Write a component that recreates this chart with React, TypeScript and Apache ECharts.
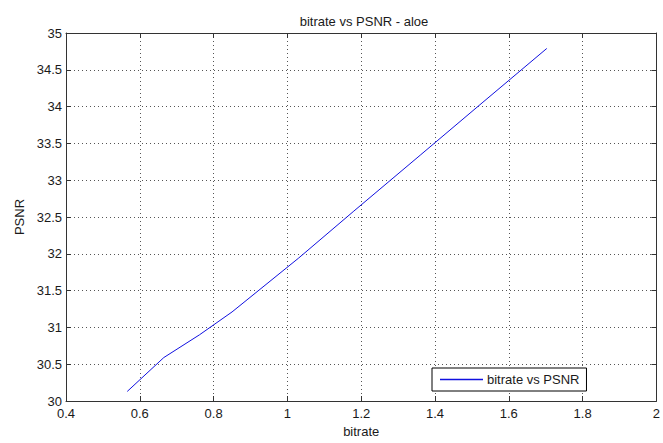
import React, { useEffect, useRef } from "react";
import * as echarts from "echarts";

const bitrate = [0.566, 0.665, 0.762, 0.85, 1.03, 1.18, 1.36, 1.53, 1.703];
const psnr = [30.13, 30.59, 30.9, 31.21, 31.94, 32.58, 33.34, 34.06, 34.79];
const seriesName = "bitrate vs PSNR";
const titleText = "bitrate vs PSNR - aloe";
const xName = "bitrate";
const yName = "PSNR";

const FONT = "Liberation Sans, Arial, sans-serif";
const TXT = "#1a1a1a";
const AX = "#333";
const GRID = "#555";
const LINE = "#1010e0";

export default function App() {
  const ref = useRef<HTMLDivElement>(null);
  useEffect(() => {
    if (!ref.current) return;
    const chart = echarts.init(ref.current, null, { renderer: "svg" });
    const data = bitrate.map((b, i) => [b, psnr[i]]);
    const tickInside = { show: true, inside: true, length: 5, lineStyle: { color: AX } };
    const hiddenAxisCommon = {
      axisLine: { show: true, lineStyle: { color: AX, width: 1 } },
      axisTick: tickInside,
      axisLabel: { show: false },
      splitLine: { show: false },
    };
    chart.setOption({
      animation: false,
      backgroundColor: "#fff",
      textStyle: { fontFamily: FONT },
      graphic: [
        {
          type: "text",
          x: 364,
          y: 21,
          style: {
            text: titleText,
            fontSize: 13,
            fontFamily: FONT,
            fill: TXT,
            align: "center",
            verticalAlign: "middle",
          },
        },
      ],
      grid: { left: 66, right: 1, top: 33, bottom: 40, containLabel: false },
      legend: {
        left: 432,
        top: 368,
        orient: "vertical",
        data: [
          {
            name: seriesName,
            icon: "rect",
            itemStyle: { color: LINE, borderWidth: 0, opacity: 1 },
          },
        ],
        itemWidth: 43,
        itemHeight: 1.4,
        itemGap: 0,
        padding: [5, 7, 5, 8],
        borderColor: "#000",
        borderWidth: 1,
        backgroundColor: "#fff",
        textStyle: { fontSize: 13, color: TXT, fontFamily: FONT, padding: [0, 0, 0, -1] },
      },
      xAxis: [
        {
          type: "value",
          position: "bottom",
          min: 0.4,
          max: 2,
          interval: 0.2,
          name: xName,
          nameLocation: "middle",
          nameGap: 24,
          nameTextStyle: { fontSize: 13, color: TXT, fontFamily: FONT },
          axisLine: { show: true, lineStyle: { color: AX, width: 1 } },
          axisTick: tickInside,
          axisLabel: {
            fontSize: 13,
            color: TXT,
            fontFamily: FONT,
            margin: 6,
            formatter: (v: number) => String(Math.round(v * 10) / 10),
          },
          splitLine: { show: true, lineStyle: { color: GRID, type: [1, 3], width: 1 } },
        },
        {
          type: "value",
          position: "top",
          min: 0.4,
          max: 2,
          interval: 0.2,
          ...hiddenAxisCommon,
        },
      ],
      yAxis: [
        {
          type: "value",
          position: "left",
          min: 30,
          max: 35,
          interval: 0.5,
          name: yName,
          nameLocation: "middle",
          nameGap: 40,
          nameTextStyle: { fontSize: 13, color: TXT, fontFamily: FONT },
          axisLine: { show: true, lineStyle: { color: AX, width: 1 } },
          axisTick: tickInside,
          axisLabel: { fontSize: 13, color: TXT, fontFamily: FONT, margin: 4 },
          splitLine: { show: true, lineStyle: { color: GRID, type: [1, 3], width: 1 } },
        },
        {
          type: "value",
          position: "right",
          min: 30,
          max: 35,
          interval: 0.5,
          ...hiddenAxisCommon,
        },
      ],
      series: [
        {
          name: seriesName,
          type: "line",
          data,
          xAxisIndex: 0,
          yAxisIndex: 0,
          symbol: "none",
          showSymbol: false,
          color: LINE,
          lineStyle: { color: LINE, width: 1 },
          itemStyle: { color: LINE },
        },
      ],
    });
    return () => chart.dispose();
  }, []);
  return (
    <div
      ref={ref}
      style={{ position: "fixed", left: 0, top: 0, width: 663, height: 443, background: "#fff" }}
    />
  );
}
